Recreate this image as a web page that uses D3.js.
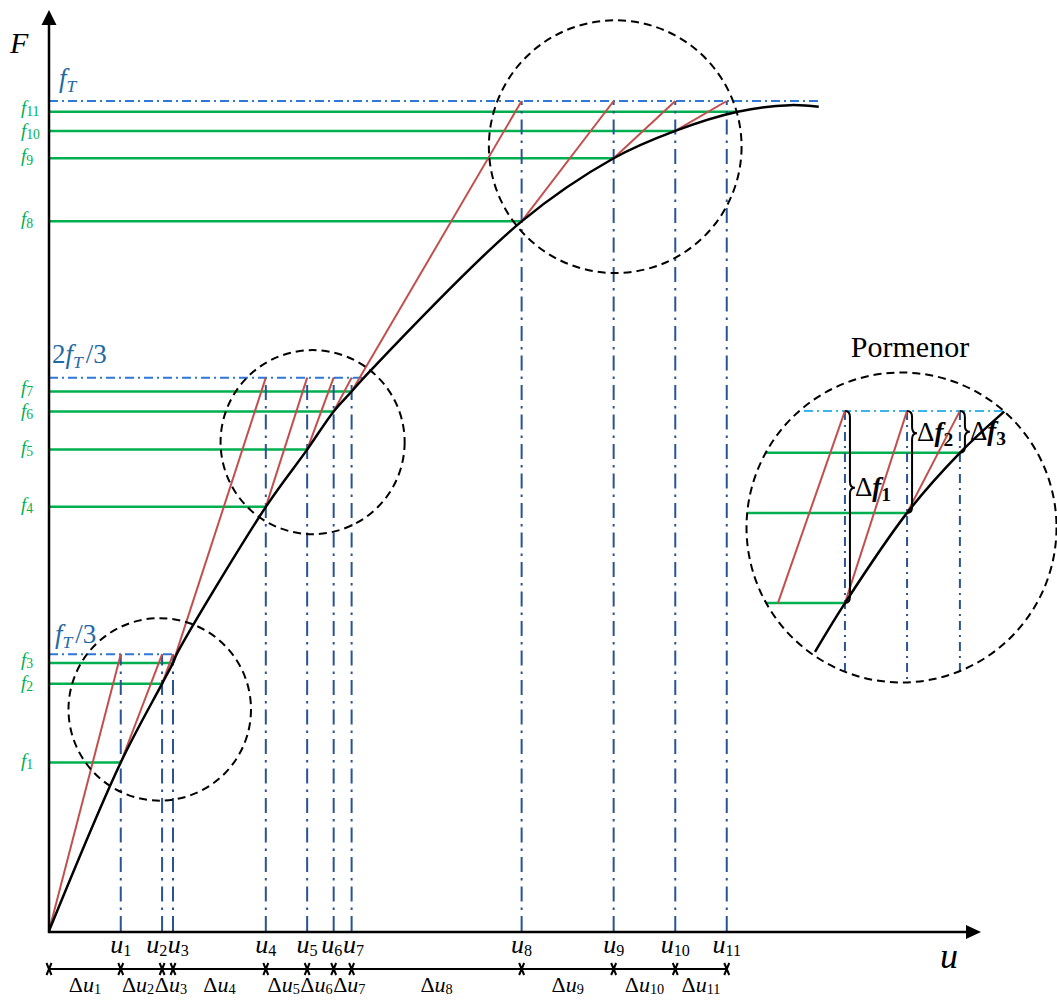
<!DOCTYPE html>
<html>
<head>
<meta charset="utf-8">
<script src="https://cdn.jsdelivr.net/npm/d3@7"></script>
<style>
  html, body { margin: 0; padding: 0; background: #fff; }
  svg { display: block; }
</style>
</head>
<body>
<svg id="chart" width="1057" height="1001"></svg>
<script>
// ---- data (forces in % of f_T, displacements in arbitrary units) ----
const levelValues = [100 / 3, 200 / 3, 100];
const levelEndU = [16.4, 40.5, 99.1];

const iterNames = ["1", "2", "3", "4", "5", "6", "7", "8", "9", "10", "11"];
const uValues = [9.2, 14.5, 15.9, 27.8, 33.1, 36.5, 38.8, 60.6, 72.4, 80.3, 86.9];
const fValues = [20.3, 29.8, 32.3, 51.1, 58.0, 62.6, 65.0, 85.5, 93.1, 96.4, 98.7];
const fCurveU = [9.2, 14.5, 15.9, 27.8, 33.1, 36.5, 38.8, 60.6, 72.4, 80.3, 88.3];
const iterStep = [0, 0, 0, 1, 1, 1, 1, 2, 2, 2, 2];

// equilibrium path F(u)
const curveU = [0, 9.2, 14.5, 15.9, 16.4, 27.8, 33.1, 36.5, 38.8, 40.8, 60.6, 72.4, 80.3, 88.3, 95.0, 98.7];
const curveF = [0, 20.3, 29.8, 32.3, 33.4, 51.1, 58.0, 62.6, 65.0, 67.1, 85.5, 93.1, 96.4, 98.7, 99.5, 99.3];

// highlighted regions around each load step
const zoneU = [14.2, 33.8, 72.6];
const zoneF = [26.7, 58.9, 94.5];
const zoneR = [11.7, 11.8, 16.2];

// close-up ("Pormenor") of one load step, local units 0..100
const detLevel = 87.5;
const detU = [31.7, 51.8, 68.9];
const detF = [25.7, 54.7, 74.0];
const detRedStartU = [10.0, 31.7, 51.8];
const detRedStartF = [25.7, 25.7, 54.7];
const detCurveU = [22.0, 31.7, 51.8, 68.9, 83.5];
const detCurveF = [10.0, 25.7, 54.7, 74.0, 87.5];
const detDeltaNames = ["1", "2", "3"];

// ---- styling ----
const SERIF = "'Liberation Serif', 'Times New Roman', serif";
const GREEN = "#00b050";
const RED = "#c0504d";
const HBLUE = "#2e78d8";
const VBLUE = "#2a5394";
const CYAN = "#3ab4ea";
const LBLUE = "#1f6aa5";

const svg = d3.select("#chart");
const x = d3.scaleLinear().domain([0, 119.5]).range([49, 981]);
const y = d3.scaleLinear().domain([0, 100]).range([931, 101]);

// math-like text: parts = [[string, style]], style flags: i italic, b bold, s subscript
function mtext(parent, px, py, parts, size, opt = {}) {
  const subScale = opt.subScale || 0.68;
  const t = parent.append("text")
    .attr("x", px).attr("y", py)
    .attr("font-family", SERIF)
    .attr("font-size", size)
    .attr("fill", opt.fill || "#000")
    .attr("text-anchor", opt.anchor || "start");
  let shift = 0;
  parts.forEach(([str, style]) => {
    if (!str) return;
    const sub = style.includes("s");
    const target = sub ? size * (opt.subDrop || 0.25) : 0;
    t.append("tspan").text(str)
      .attr("dy", target - shift)
      .attr("dx", opt.dx && opt.dx[str] ? opt.dx[str] : 0)
      .attr("font-size", sub ? size * subScale : size)
      .attr("font-style", style.includes("i") ? "italic" : "normal")
      .attr("font-weight", style.includes("b") ? "bold" : "normal");
    shift = target;
  });
  return t;
}

// push overlapping labels in a row (or column) apart
function relax(nodes, vertical) {
  const pos = vertical ? "y" : "x", len = vertical ? "height" : "width";
  const items = nodes.map(n => ({ n, bb: n.getBBox(), off: 0, p0: +n.getAttribute(pos) }));
  items.sort((a, b) => a.bb[pos] - b.bb[pos]);
  for (let it = 0; it < 60; it++) {
    for (let i = 1; i < items.length; i++) {
      const a = items[i - 1], b = items[i];
      const ov = (a.bb[pos] + a.bb[len] + a.off) - (b.bb[pos] + b.off) + 0.5;
      if (ov > 0) { a.off -= ov / 2; b.off += ov / 2; }
    }
  }
  items.forEach(d => {
    d.n.setAttribute(pos, d.p0 + d.off);
    if (vertical) d3.select(d.n).selectAll("tspan").attr("x", null);
  });
}

const line = d3.line().x(d => x(d[0])).y(d => y(d[1]));

// ---- horizontal load-level guides ----
svg.append("g").selectAll("line").data(levelValues).join("line")
  .attr("x1", x(0)).attr("x2", (d, i) => x(levelEndU[i]))
  .attr("y1", d => y(d)).attr("y2", d => y(d))
  .attr("stroke", HBLUE).attr("stroke-width", 2)
  .attr("stroke-dasharray", "9,4,2,4");

// ---- green force levels ----
svg.append("g").selectAll("line").data(fValues).join("line")
  .attr("x1", x(0)).attr("x2", (d, i) => x(fCurveU[i]))
  .attr("y1", d => y(d)).attr("y2", d => y(d))
  .attr("stroke", GREEN).attr("stroke-width", 2.5);

// ---- vertical displacement guides ----
svg.append("g").selectAll("line").data(uValues).join("line")
  .attr("x1", d => x(d)).attr("x2", d => x(d))
  .attr("y1", y(0)).attr("y2", (d, i) => y(levelValues[iterStep[i]]))
  .attr("stroke", VBLUE).attr("stroke-width", 2)
  .attr("stroke-dasharray", "15,6,2.5,6");

// ---- iteration lines ----
svg.append("g").selectAll("path").data(uValues).join("path")
  .attr("d", (d, i) => line([
    i === 0 ? [0, 0] : [uValues[i - 1], fValues[i - 1]],
    [d, levelValues[iterStep[i]]]
  ]))
  .attr("stroke", RED).attr("stroke-width", 2).attr("fill", "none");

// ---- equilibrium curve ----
svg.append("path")
  .attr("d", d3.line().x(d => x(d[0])).y(d => y(d[1])).curve(d3.curveCatmullRom.alpha(0.5))(curveU.map((u, i) => [u, curveF[i]])))
  .attr("fill", "none").attr("stroke", "#000").attr("stroke-width", 2.5);

// ---- dashed circles ----
svg.append("g").selectAll("circle").data(zoneU).join("circle")
  .attr("cx", d => x(d)).attr("cy", (d, i) => y(zoneF[i]))
  .attr("r", (d, i) => x(zoneR[i]) - x(0))
  .attr("fill", "none").attr("stroke", "#000").attr("stroke-width", 2)
  .attr("stroke-dasharray", "8,5");

// ---- axes ----
const axes = svg.append("g");
axes.append("line").attr("x1", x(0)).attr("x2", x(0)).attr("y1", y(0) + 2).attr("y2", 24)
  .attr("stroke", "#000").attr("stroke-width", 2.5);
axes.append("path").attr("d", `M${x(0)},10 L${x(0) - 7.5},25 L${x(0) + 7.5},25 Z`).attr("fill", "#000");
axes.append("line").attr("x1", x(0) - 1).attr("x2", 967).attr("y1", y(0) + 1).attr("y2", y(0) + 1)
  .attr("stroke", "#000").attr("stroke-width", 2.5);
axes.append("path").attr("d", `M981,${y(0) + 1} L966,${y(0) - 6} L966,${y(0) + 8} Z`).attr("fill", "#000");

mtext(svg, 10, 53, [["F", "i"]], 30);
mtext(svg, 940, 968, [["u", "i"]], 36);

// ---- force labels ----
const fLab = fValues.map((f, i) =>
  mtext(svg, 21, y(f) + 4, [["f", "i"], [iterNames[i], "s"]], 19, { fill: GREEN, subScale: 0.72, subDrop: 0.12 }).node());
relax(fLab, true);

// ---- load level labels ----
mtext(svg, 59, 87, [["f", "i"], ["T", "si"]], 27, { fill: LBLUE, subScale: 0.65, subDrop: 0.2 });
mtext(svg, 52, 363, [["2", "r"], ["f", "i"], ["T", "si"], ["/3", "r"]], 27, { fill: LBLUE, subScale: 0.65, subDrop: 0.2, dx: { "/3": 3 } });
mtext(svg, 55, 643, [["f", "i"], ["T", "si"], ["/3", "r"]], 27, { fill: LBLUE, subScale: 0.65, subDrop: 0.2, dx: { "/3": 3 } });

// ---- displacement labels ----
const uLab = uValues.map((u, i) =>
  mtext(svg, x(u), 953, [["u", "i"], [iterNames[i], "s"]], 26, { anchor: "middle", subScale: 0.62, subDrop: 0.12 }).node());
relax(uLab, false);

// ---- increment row ----
const rowY = 969;
const rowPts = [0].concat(uValues);
const row = svg.append("g");
row.append("line").attr("x1", x(0)).attr("x2", x(uValues[uValues.length - 1]))
  .attr("y1", rowY).attr("y2", rowY).attr("stroke", "#000").attr("stroke-width", 2);
row.selectAll("path.tick").data(rowPts).join("path").attr("class", "tick")
  .attr("d", d => `M${x(d) - 2.5},${rowY - 6} L${x(d) + 2.5},${rowY + 6} M${x(d) + 2.5},${rowY - 6} L${x(d) - 2.5},${rowY + 6}`)
  .attr("stroke", "#000").attr("stroke-width", 2).attr("fill", "none");
const duLab = uValues.map((u, i) =>
  mtext(svg, (x(rowPts[i]) + x(u)) / 2, 992, [["Δ", "r"], ["u", "i"], [iterNames[i], "s"]], 22, { anchor: "middle", subScale: 0.65, subDrop: 0.1 }).node());
relax(duLab, false);

// ---- close-up ----
const cx0 = 901.5, cy0 = 527.5, cr = 155;
const dx = d3.scaleLinear().domain([0, 100]).range([747, 1056]);
const dy = d3.scaleLinear().domain([0, 100]).range([683, 372]);
const dline = d3.line().x(d => dx(d[0])).y(d => dy(d[1]));

svg.append("defs").append("clipPath").attr("id", "detail-clip")
  .append("circle").attr("cx", cx0).attr("cy", cy0).attr("r", cr);
const det = svg.append("g").attr("clip-path", "url(#detail-clip)");

det.append("line").attr("x1", dx(0)).attr("x2", dx(detCurveU[detCurveU.length - 1]))
  .attr("y1", dy(detLevel)).attr("y2", dy(detLevel))
  .attr("stroke", CYAN).attr("stroke-width", 2).attr("stroke-dasharray", "9,4,2,4");
det.selectAll("line.g").data(detF).join("line").attr("class", "g")
  .attr("x1", dx(0)).attr("x2", (d, i) => dx(detU[i]))
  .attr("y1", d => dy(d)).attr("y2", d => dy(d))
  .attr("stroke", GREEN).attr("stroke-width", 2.5);
det.selectAll("line.v").data(detU).join("line").attr("class", "v")
  .attr("x1", d => dx(d)).attr("x2", d => dx(d))
  .attr("y1", dy(detLevel)).attr("y2", dy(0))
  .attr("stroke", VBLUE).attr("stroke-width", 2).attr("stroke-dasharray", "9,5,2,5");
det.selectAll("path.r").data(detU).join("path").attr("class", "r")
  .attr("d", (d, i) => dline([[detRedStartU[i], detRedStartF[i]], [d, detLevel]]))
  .attr("stroke", RED).attr("stroke-width", 2).attr("fill", "none");
det.append("path")
  .attr("d", d3.line().x(d => dx(d[0])).y(d => dy(d[1])).curve(d3.curveCatmullRom.alpha(0.5))(detCurveU.map((u, i) => [u, detCurveF[i]])))
  .attr("fill", "none").attr("stroke", "#000").attr("stroke-width", 2.5);

svg.append("circle").attr("cx", cx0).attr("cy", cy0).attr("r", cr)
  .attr("fill", "none").attr("stroke", "#000").attr("stroke-width", 2).attr("stroke-dasharray", "8,5");

// curly braces marking each residual
const braceTip = [0.4, 0.22, 0.5];
function bracePath(x0, y0, y1, t) {
  const w = 5, ym = y0 + (y1 - y0) * t, r = Math.min(6, (y1 - y0) / 5);
  return `M${x0},${y0} Q${x0 + w},${y0} ${x0 + w},${y0 + r} L${x0 + w},${ym - r} Q${x0 + w},${ym} ${x0 + 2 * w},${ym} ` +
         `Q${x0 + w},${ym} ${x0 + w},${ym + r} L${x0 + w},${y1 - r} Q${x0 + w},${y1} ${x0},${y1}`;
}
detU.forEach((u, i) => {
  const top = dy(detLevel), bot = dy(detF[i]);
  svg.append("path").attr("d", bracePath(dx(u), top, bot, braceTip[i]))
    .attr("fill", "none").attr("stroke", "#000").attr("stroke-width", 2);
  const ym = top + (bot - top) * braceTip[i];
  mtext(svg, dx(u) + 10, ym + 8, [["Δ", "r"], ["f", "bi"], [detDeltaNames[i], "sb"]], 27, { subScale: 0.72, subDrop: 0.18 });
});

svg.append("text").attr("x", 910).attr("y", 357).attr("text-anchor", "middle")
  .attr("font-family", SERIF).attr("font-size", 30).attr("fill", "#000").text("Pormenor");
</script>
</body>
</html>
